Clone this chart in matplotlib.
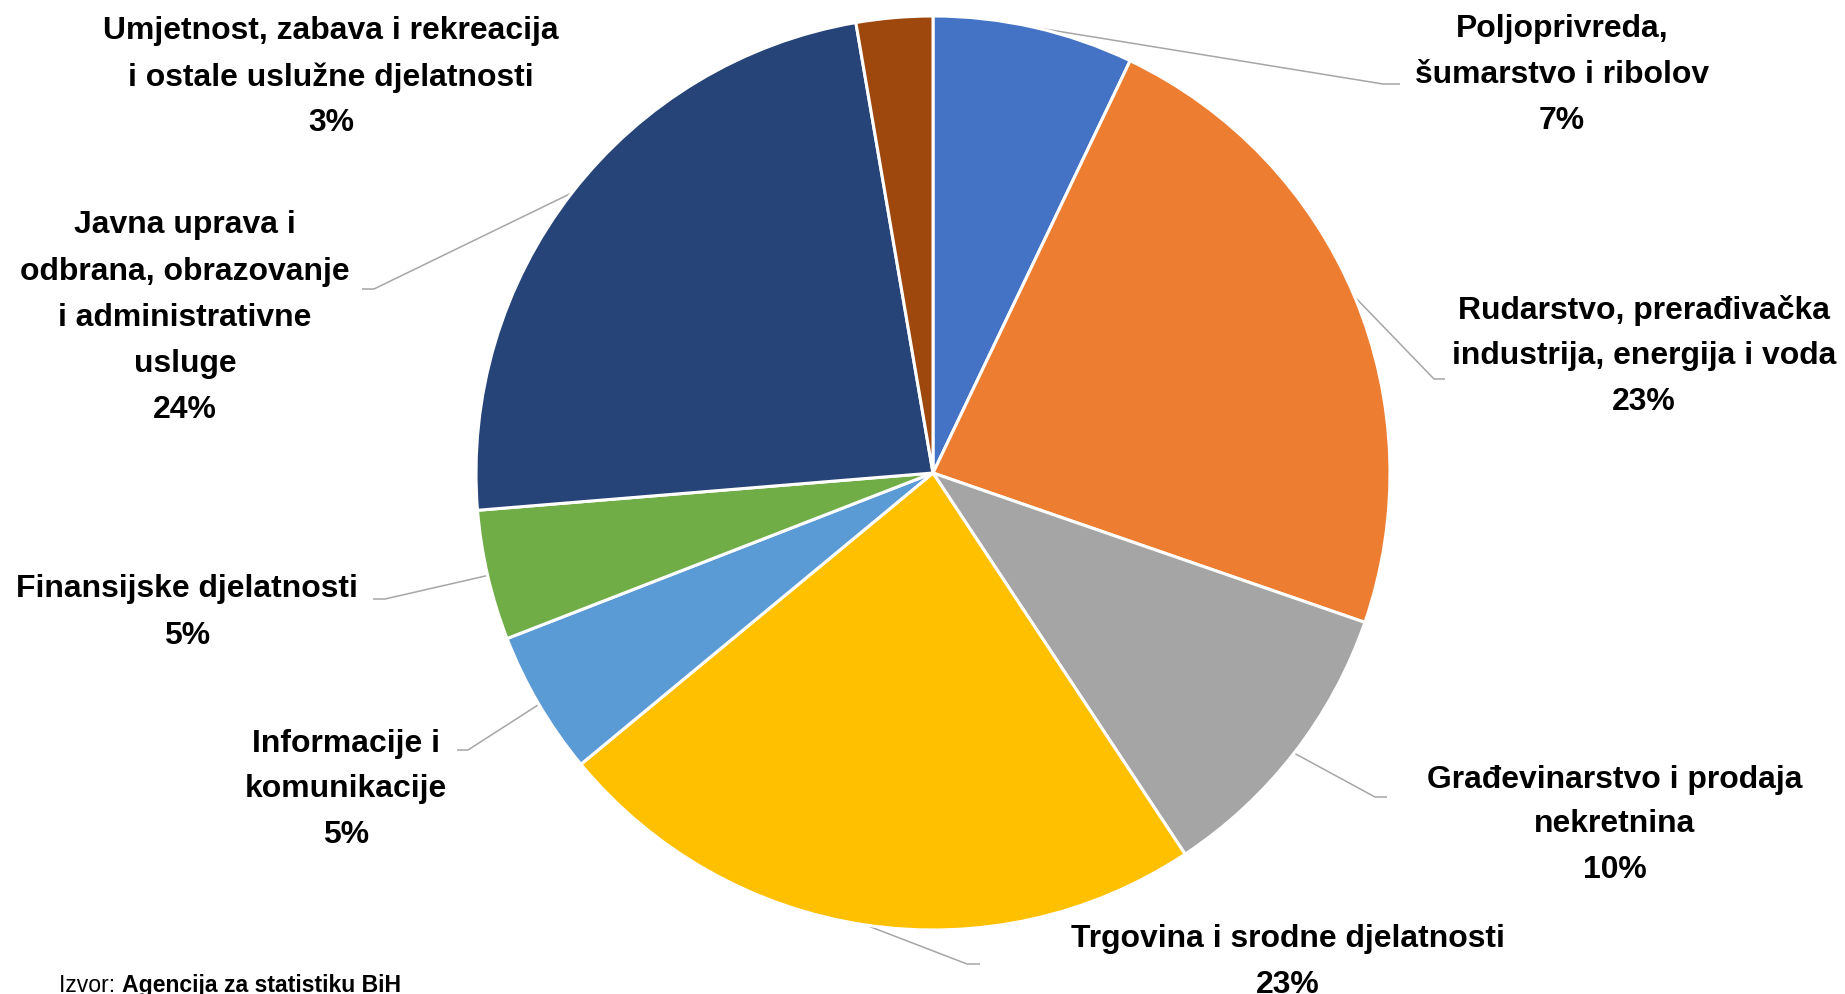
import matplotlib
matplotlib.use('Agg')
import matplotlib.pyplot as plt
from matplotlib import font_manager
import numpy as np

# ---------------- data ----------------
categories = [
    "Poljoprivreda,\nšumarstvo i ribolov",
    "Rudarstvo, prerađivačka\nindustrija, energija i voda",
    "Građevinarstvo i prodaja\nnekretnina",
    "Trgovina i srodne djelatnosti",
    "Informacije i\nkomunikacije",
    "Finansijske djelatnosti",
    "Javna uprava i\nodbrana, obrazovanje\ni administrativne\nusluge",
    "Umjetnost, zabava i rekreacija\ni ostale uslužne djelatnosti",
]
values = [7.1, 23.2, 10.4, 23.3, 5.1, 4.6, 23.6, 2.7]
colors = ['#4472C4', '#ED7D31', '#A5A5A5', '#FFC000',
          '#5B9BD5', '#70AD47', '#264478', '#9E480E']
source_prefix = "Izvor: "
source_name = "Agencija za statistiku BiH"

# ---------------- layout (pixels from top-left) ----------------
W, H = 1845, 995
# (label centre x, line centre y's, elbow point, stub end x)
layout = [
    (1562, [26, 72, 118], (1383, 85), 1400),
    (1644, [307, 353, 399], (1434, 380), 1445),
    (1615, [777, 821, 867], (1375, 798), 1387),
    (1288, [936, 982], (967, 965), 980),
    (346, [741, 786, 832], (468, 751), 457),
    (187, [586, 633], (385, 600), 373),
    (185, [222, 269, 315, 361, 407], (374, 290), 362),
    (331, [28, 74, 120], None, None),
]

names = {f.name for f in font_manager.fontManager.ttflist}
fam = 'Liberation Sans Narrow' if 'Liberation Sans Narrow' in names else 'Liberation Sans'

fig = plt.figure(figsize=(W / 100, H / 100), dpi=100)
ax = fig.add_axes([0, 0, 1, 1])
cx, cy, R = 933, H - 474, 457
wedges, _ = ax.pie(values, colors=colors, startangle=90, counterclock=False,
                   center=(cx, cy), radius=R,
                   wedgeprops=dict(edgecolor='white', linewidth=2.2))
ax.set_xlim(0, W)
ax.set_ylim(0, H)
ax.set_aspect('equal')
ax.axis('off')

# fit font size to the reference width of one label line
renderer = fig.canvas.get_renderer()
probe = ax.text(0, 0, "Finansijske djelatnosti", fontsize=20, fontweight='bold', family=fam)
wpx = probe.get_window_extent(renderer).width
probe.remove()
fs = 20 * 341 / wpx

for w, cat, v, (lx, lys, elbow, stub) in zip(wedges, categories, values, layout):
    lines = cat.split("\n") + [f"{v:.0f}%"]
    for line, ly in zip(lines, lys):
        ax.text(lx, H - ly, line, ha='center', va='center_baseline',
                fontsize=fs, fontweight='bold', family=fam, color='black')
    if elbow is not None:
        th = np.deg2rad((w.theta1 + w.theta2) / 2)
        x0, y0 = cx + R * np.cos(th), cy + R * np.sin(th)
        ax.plot([x0, elbow[0], stub], [y0, H - elbow[1], H - elbow[1]],
                color='#A6A6A6', lw=1.1, solid_capstyle='butt', zorder=0.5)

# source
probe = ax.text(0, 0, source_prefix + source_name, fontsize=14, family=fam)
wpx = probe.get_window_extent(renderer).width
probe.remove()
sfs = 14 * 322 / wpx
t1 = ax.text(59, H - 974, source_prefix, fontsize=sfs, family=fam, va='top', ha='left')
bb = t1.get_window_extent(renderer)
ax.text(bb.x1, H - 974, source_name, fontsize=sfs, family=fam, fontweight='bold',
        va='top', ha='left')

fig.savefig('out.png', dpi=100, facecolor='white')
